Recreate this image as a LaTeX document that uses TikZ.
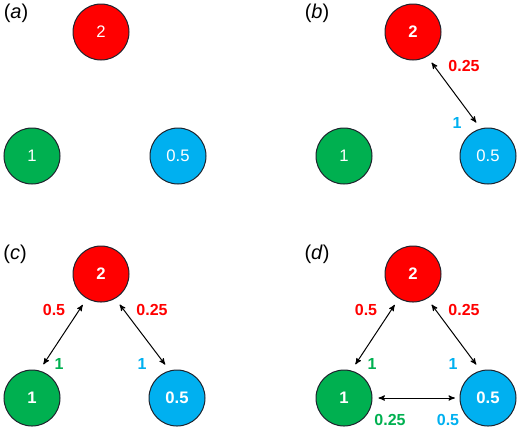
\documentclass[tikz,border=0pt]{standalone}
\usepackage{fontspec}
\setmainfont{Liberation Sans}
\usetikzlibrary{arrows}
\definecolor{cred}{RGB}{255,0,0}
\definecolor{cgreen}{RGB}{0,176,80}
\definecolor{cblue}{RGB}{0,176,240}
\definecolor{cedge}{RGB}{30,35,45}

\begin{document}
\begin{tikzpicture}[x=0.75pt,y=-0.75pt,>=stealth',
	ball/.style={circle,draw=cedge,line width=0.75pt,minimum size=42pt,
		inner sep=0pt,text=white,font=\fontsize{12.5}{14}\selectfont},
	wt/.style={font=\bfseries\fontsize{12}{14}\selectfont},
	tag/.style={font=\fontsize{15}{18}\selectfont},
	link/.style={<->,line width=0.75pt,shorten >=5.5pt,shorten <=5.5pt}]
	\useasboundingbox (0,0) rectangle (520,430);
	
	% (a)
	\node[tag] (ta) at (16,13) {(\textit{a})};
	\node[ball,fill=cred] (a2) at (101,32) {2};
	\node[ball,fill=cgreen] (a1) at (32,156) {1};
	\node[ball,fill=cblue] (a05) at (178,156) {0.5};
	
	% (b)
	\node[tag] (tb) at (317,13) {(\textit{b})};
	\node[ball,fill=cred] (b2) at (413,32) {\textbf{2}};
	\node[ball,fill=cgreen] (b1) at (344,156) {1};
	\node[ball,fill=cblue] (b05) at (488,156) {0.5};
	\node[wt,text=cred] (b2r) at (464,66) {0.25};
	\node[wt,text=cblue] (b05t) at (457,123) {1};
	\draw[link] (b2.-60) -- (b05.105);
	
	% (c)
	\node[tag] (tc) at (15,254) {(\textit{c})};
	\node[ball,fill=cred] (c2) at (101,274) {\textbf{2}};
	\node[ball,fill=cgreen] (c1) at (32,398) {\textbf{1}};
	\node[ball,fill=cblue] (c05) at (177,398) {\textbf{0.5}};
	\node[wt,text=cred] (c2l) at (54,310) {0.5};
	\node[wt,text=cred] (c2r) at (152,310) {0.25};
	\node[wt,text=cgreen] (c1t) at (59,364) {1};
	\node[wt,text=cblue] (c05t) at (142,364) {1};
	\draw[link] (c2.-120) -- (c1.75);
	\draw[link] (c2.-60) -- (c05.105);
	
	% (d)
	\node[tag] (td) at (317,254) {(\textit{d})};
	\node[ball,fill=cred] (d2) at (413,274) {\textbf{2}};
	\node[ball,fill=cgreen] (d1) at (344,398) {\textbf{1}};
	\node[ball,fill=cblue] (d05) at (488,398) {\textbf{0.5}};
	\node[wt,text=cred] (d2l) at (366,310) {0.5};
	\node[wt,text=cred] (d2r) at (464,310) {0.25};
	\node[wt,text=cgreen] (d1t) at (372,364) {1};
	\node[wt,text=cblue] (d05t) at (453,364) {1};
	\node[wt,text=cgreen] (d1b) at (390,420) {0.25};
	\node[wt,text=cblue] (d05b) at (448,420) {0.5};
	\draw[link] (d2.-120) -- (d1.75);
	\draw[link] (d2.-60) -- (d05.105);
	\draw[link,shorten >=3.5pt,shorten <=4.5pt] (d1.east) -- (d05.west);
\end{tikzpicture}
\end{document}
